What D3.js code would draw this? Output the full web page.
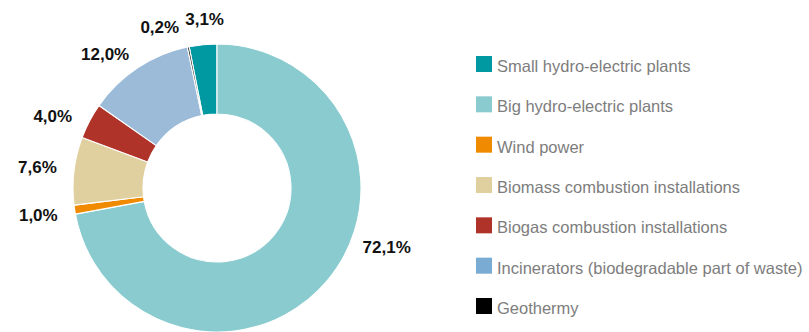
<!DOCTYPE html>
<html>
<head>
<meta charset="utf-8">
<script src="https://cdn.jsdelivr.net/npm/d3@7"></script>
<style>
  html, body { margin: 0; padding: 0; background: #fff; }
  svg { display: block; }
</style>
</head>
<body>
<svg id="chart" width="809" height="332"></svg>
<script>
// ---- data ----
const categories = [
  "Small hydro-electric plants",
  "Big hydro-electric plants",
  "Wind power",
  "Biomass combustion installations",
  "Biogas combustion installations",
  "Incinerators (biodegradable part of waste)",
  "Geothermy"
];
const shares = [3.1, 72.1, 1.0, 7.6, 4.0, 12.0, 0.2];
const labels = ["3,1%", "72,1%", "1,0%", "7,6%", "4,0%", "12,0%", "0,2%"];

// ---- styling / layout (kept separate from data) ----
const sliceColors  = ["#0098a1", "#89cbcf", "#f08a00", "#e0d0a0", "#b03329", "#9bbbd9", "#000000"];
const legendColors = ["#0098a1", "#89cbcf", "#f08a00", "#e0d0a0", "#b03329", "#7aabd3", "#000000"];
const labelAngleNudgeDeg = [1.4, -20.5, 0, 0, -4.1, -6.4, -8];

const svg = d3.select("#chart");
const cx = 217, cy = 188, rOuter = 144, rInner = 74;

const total = d3.sum(shares);
const start = -(shares[0] / total) * 2 * Math.PI;
const pie = d3.pie().sort(null).value(d => d)
  .startAngle(start).endAngle(start + 2 * Math.PI);
const arcs = pie(shares);
const arc = d3.arc().innerRadius(rInner).outerRadius(rOuter);

const g = svg.append("g").attr("transform", `translate(${cx},${cy})`);
g.selectAll("path.slice").data(arcs).enter().append("path")
  .attr("class", "slice")
  .attr("d", arc)
  .attr("fill", (d, i) => sliceColors[i])
  .attr("stroke", "#fff")
  .attr("stroke-width", 1.1)
  .attr("stroke-linejoin", "round");

// labels
g.selectAll("text.lbl").data(arcs).enter().append("text")
  .attr("class", "lbl")
  .attr("font-family", "Liberation Sans, Arial, sans-serif")
  .attr("font-weight", "bold")
  .attr("font-size", 17)
  .attr("fill", "#111")
  .attr("text-anchor", "middle")
  .attr("dy", "0.36em")
  .attr("transform", (d, i) => {
    const a = (d.startAngle + d.endAngle) / 2 + labelAngleNudgeDeg[i] * Math.PI / 180;
    const s = Math.sin(a);
    const r = rOuter + 26 + 11 * s * s;
    return `translate(${r * Math.sin(a)},${-r * Math.cos(a)})`;
  })
  .text((d, i) => labels[i]);

// legend
const legY = d3.scalePoint().domain(categories).range([64, 306]);
const leg = svg.append("g");
const items = leg.selectAll("g.item").data(categories).enter().append("g")
  .attr("class", "item")
  .attr("transform", d => `translate(476,${legY(d)})`);
items.append("rect")
  .attr("x", 0).attr("y", -8).attr("width", 16).attr("height", 16)
  .attr("fill", (d, i) => legendColors[i]);
items.append("text")
  .attr("x", 21).attr("y", 8)
  .attr("font-family", "Liberation Sans, Arial, sans-serif")
  .attr("font-size", 16.5)
  .attr("fill", "#7d7d7d")
  .text(d => d);
</script>
</body>
</html>
